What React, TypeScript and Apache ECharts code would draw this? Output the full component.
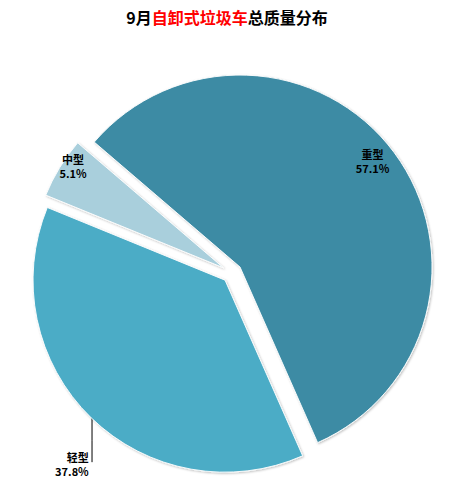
import React, { useEffect, useRef } from "react";
import * as echarts from "echarts";

const categories = ["重型", "轻型", "中型"];
const values = [57.1, 37.8, 5.1];
const colors = ["#3C8BA4", "#4BACC6", "#A9CFDC"];
const titleParts = ["9月", "自卸式垃圾车", "总质量分布"];

export default function App() {
  const ref = useRef<HTMLDivElement>(null);
  useEffect(() => {
    document.body.style.margin = "0";
    const chart = echarts.init(ref.current!, null, { renderer: "svg" });
    const labelFont = {
      fontSize: 11,
      fontWeight: "bold" as const,
      color: "#000",
      lineHeight: 14,
      fontFamily: "'Noto Sans CJK SC', 'DejaVu Sans', sans-serif",
    };
    chart.setOption({
      animation: false,
      backgroundColor: "#fff",
      title: {
        left: "center",
        top: 4,
        text: `{a|${titleParts[0]}}{b|${titleParts[1]}}{a|${titleParts[2]}}`,
        textStyle: {
          rich: {
            a: { fontSize: 16, fontWeight: "bold", color: "#000", fontFamily: "'Noto Sans CJK SC', sans-serif" },
            b: { fontSize: 16, fontWeight: "bold", color: "#FF0000", fontFamily: "'Noto Sans CJK SC', sans-serif" },
          },
        },
      },
      series: [
        {
          type: "pie",
          center: [232, 273],
          radius: 192,
          startAngle: 139.4,
          clockwise: true,
          selectedMode: "multiple",
          selectedOffset: 10,
          percentPrecision: 1,
          emphasis: { disabled: true },
          itemStyle: {
            borderColor: "rgba(255,255,255,0.9)",
            borderWidth: 1,
            shadowBlur: 2,
            shadowOffsetX: 1,
            shadowOffsetY: 1,
            shadowColor: "rgba(0,0,0,0.25)",
          },
          label: {
            show: true,
            position: "inside",
            formatter: "{b}\n{d}%",
            ...labelFont,
          },
          labelLine: { show: false },
          data: categories.map((name, i) => ({
            name,
            value: values[i],
            selected: true,
            itemStyle: { color: colors[i] },
            ...(name === "轻型"
              ? {
                  label: { position: "outside" },
                  labelLine: { show: true, lineStyle: { color: "#000", width: 1 } },
                }
              : {}),
          })),
          labelLayout: (p: any) => {
            if (p.dataIndex === 0) {
              return { dx: 53, dy: -47 };
            }
            if (p.dataIndex === 2) {
              return { dx: -66, dy: -50 };
            }
            return {
              dx: 43,
              dy: 35,
              labelLinePoints: [
                [99, 411],
                [99, 433],
                [99, 455],
              ],
            };
          },
        },
      ],
    });
    return () => chart.dispose();
  }, []);
  return <div ref={ref} style={{ width: 454, height: 496 }} />;
}
